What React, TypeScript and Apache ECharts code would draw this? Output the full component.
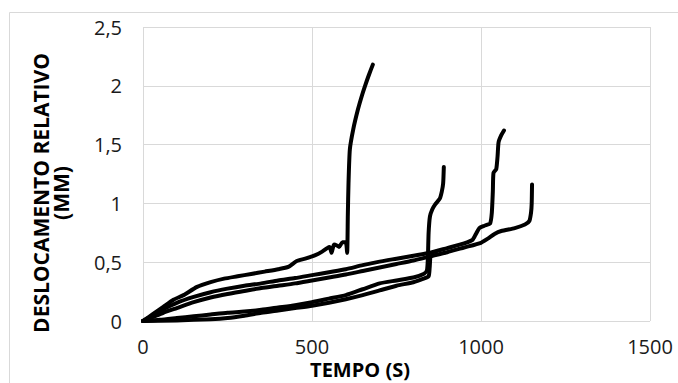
import React, { useEffect, useRef } from "react";
import * as echarts from "echarts";

const xTicks = { min: 0, max: 1500, interval: 500 };
const yTicks = { min: 0, max: 2.5, interval: 0.5 };

const xTitle = "TEMPO (S)";
const yTitle = "DESLOCAMENTO RELATIVO\n(MM)";

const curveA: [number, number][] = [
  [0, 0], [30, 0.06], [60, 0.12], [90, 0.18], [120, 0.22], [160, 0.29], [200, 0.33],
  [240, 0.36], [280, 0.38], [320, 0.4], [360, 0.42], [400, 0.44], [430, 0.46],
  [455, 0.51], [480, 0.53], [510, 0.56], [530, 0.59], [545, 0.62], [552, 0.63],
  [558, 0.58], [565, 0.65], [575, 0.64], [580, 0.63], [590, 0.67], [600, 0.67],
  [604, 0.58], [606, 0.9], [608, 1.17], [612, 1.46], [622, 1.63], [636, 1.8],
  [648, 1.92], [657, 2.0], [668, 2.09], [680, 2.18],
];

const curveB: [number, number][] = [
  [0, 0], [30, 0.05], [60, 0.1], [100, 0.155], [150, 0.205], [200, 0.245], [250, 0.275],
  [300, 0.3], [350, 0.32], [400, 0.345], [450, 0.365], [500, 0.39], [550, 0.415],
  [600, 0.44], [650, 0.475], [700, 0.505], [750, 0.53], [800, 0.555], [850, 0.58],
  [900, 0.62], [950, 0.66], [975, 0.69], [985, 0.74], [995, 0.79], [1010, 0.81],
  [1027, 0.83], [1032, 0.92], [1035, 1.1], [1037, 1.26], [1045, 1.29], [1049, 1.4],
  [1052, 1.52], [1060, 1.58], [1068, 1.62],
];

const curveC: [number, number][] = [
  [0, 0], [30, 0.035], [60, 0.07], [100, 0.11], [150, 0.16], [200, 0.2], [250, 0.23],
  [300, 0.255], [350, 0.28], [400, 0.3], [450, 0.32], [500, 0.345], [550, 0.37],
  [600, 0.395], [650, 0.425], [700, 0.455], [750, 0.485], [800, 0.515], [850, 0.55],
  [900, 0.585], [950, 0.625], [1000, 0.665], [1020, 0.7], [1040, 0.74], [1060, 0.765],
  [1100, 0.79], [1130, 0.82], [1143, 0.85], [1148, 0.92], [1150, 1.0], [1151, 1.16],
];

const curveD: [number, number][] = [
  [0, 0], [50, 0.01], [100, 0.025], [150, 0.04], [200, 0.055], [250, 0.07], [300, 0.08],
  [350, 0.095], [400, 0.115], [450, 0.135], [500, 0.16], [550, 0.19], [600, 0.22],
  [650, 0.27], [700, 0.32], [750, 0.345], [800, 0.37], [830, 0.4], [840, 0.43],
  [843, 0.55], [845, 0.75], [849, 0.89], [856, 0.95], [864, 0.99], [878, 1.04],
  [884, 1.1], [888, 1.17], [890, 1.31],
];

const curveE: [number, number][] = [
  [0, 0], [100, 0.005], [200, 0.015], [250, 0.025], [300, 0.045], [350, 0.07],
  [400, 0.09], [450, 0.11], [500, 0.13], [550, 0.155], [600, 0.185], [650, 0.22],
  [700, 0.26], [750, 0.3], [800, 0.33], [830, 0.36], [845, 0.38], [848, 0.45], [850, 0.55],
];

const curves = [curveA, curveB, curveC, curveD, curveE];

export default function App() {
  const ref = useRef<HTMLDivElement>(null);
  useEffect(() => {
    if (!ref.current) return;
    const chart = echarts.init(ref.current, null, { renderer: "svg" });
    const labelFont = { fontFamily: "Open Sans", fontSize: 20, color: "#1a1a1a" };
    chart.setOption({
      animation: false,
      backgroundColor: "#ffffff",
      grid: { left: 143, right: 28, top: 27, bottom: 62, containLabel: false },
      xAxis: {
        type: "value",
        min: xTicks.min,
        max: xTicks.max,
        interval: xTicks.interval,
        axisLine: { show: false },
        axisTick: { show: false },
        splitLine: { show: true, lineStyle: { color: "#d9d9d9", width: 1 } },
        axisLabel: {
          ...labelFont,
          margin: 15,
          lineHeight: 20,
          formatter: (v: number) => String(v),
        },
      },
      yAxis: {
        type: "value",
        min: yTicks.min,
        max: yTicks.max,
        interval: yTicks.interval,
        axisLine: { show: false },
        axisTick: { show: false },
        splitLine: { show: true, lineStyle: { color: "#d9d9d9", width: 1 } },
        axisLabel: {
          ...labelFont,
          margin: 21,
          formatter: (v: number) => String(v).replace(".", ","),
        },
      },
      series: curves.map((c) => ({
        type: "line",
        data: c,
        showSymbol: false,
        symbol: "none",
        smooth: 0.2,
        lineStyle: { color: "#000000", width: 4, cap: "round", join: "round" },
      })),
      graphic: [
        {
          type: "rect",
          shape: { x: 9.5, y: 12.5, width: 700, height: 400 },
          style: { fill: "none", stroke: "#d9d9d9", lineWidth: 1 },
          silent: true,
          z: -1,
        },
        {
          type: "text",
          x: 360,
          y: 369,
          style: {
            text: xTitle,
            fontFamily: "Open Sans",
            fontWeight: "bold",
            fontSize: 20,
            lineHeight: 20,
            fill: "#000000",
            textAlign: "center",
            textVerticalAlign: "middle",
          },
        },
        {
          type: "text",
          x: 51,
          y: 193,
          rotation: Math.PI / 2,
          style: {
            text: yTitle,
            fontFamily: "Open Sans",
            fontWeight: "bold",
            fontSize: 21,
            lineHeight: 20,
            fill: "#000000",
            textAlign: "center",
            textVerticalAlign: "middle",
          },
        },
      ],
    });
    return () => chart.dispose();
  }, []);
  return (
    <div
      ref={ref}
      style={{ position: "fixed", left: 0, top: 0, width: 678, height: 383 }}
    />
  );
}
